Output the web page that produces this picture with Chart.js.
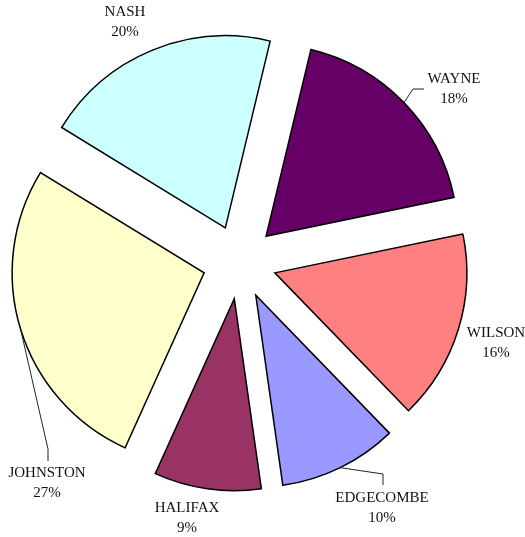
<!DOCTYPE html>
<html>
<head>
<meta charset="utf-8">
<script src="https://cdn.jsdelivr.net/npm/chart.js@4/dist/chart.umd.min.js"></script>
<style>
  html, body { margin: 0; padding: 0; background: #fff; }
  #wrap { width: 525px; height: 537px; }
</style>
</head>
<body>
<div id="wrap"><canvas id="pieChart" width="525" height="537"></canvas></div>
<script>
// County shares, clockwise from the top
const counties = ['WAYNE', 'WILSON', 'EDGECOMBE', 'HALIFAX', 'JOHNSTON', 'NASH'];
const shares = [18, 16, 10, 9, 27, 20];
const sliceColors = ['#660066', '#FF8080', '#9999FF', '#993366', '#FFFFCC', '#CCFFFF'];

// Label placement (centre of the name line) and optional leader elbows
const labelLayout = [
    { x: 454, y: 79, leader: [[413, 89], [424, 89]] },
    { x: 496, y: 333 },
    { x: 382, y: 498, leader: [[383, 474], [383, 485]] },
    { x: 187, y: 508 },
    { x: 47, y: 473, leader: [[48, 449], [48, 461]] },
    { x: 125, y: 12 }
];

const EXPLODE = 37;

// Pull every slice outwards along its middle angle
const explodePlugin = {
    id: 'explode',
    beforeDatasetDraw(chart, args) {
        const ctx = chart.ctx;
        const meta = args.meta;
        meta.data.forEach(arc => {
            const mid = (arc.startAngle + arc.endAngle) / 2;
            ctx.save();
            ctx.translate(Math.cos(mid) * EXPLODE, Math.sin(mid) * EXPLODE);
            arc.draw(ctx);
            ctx.restore();
        });
        return false;
    }
};

// Name + percentage text, with leader lines where the label sits away from the slice
const labelPlugin = {
    id: 'sliceLabels',
    afterDatasetsDraw(chart) {
        const ctx = chart.ctx;
        const meta = chart.getDatasetMeta(0);
        ctx.save();
        ctx.font = '15px "Liberation Serif", "Times New Roman", serif';
        ctx.fillStyle = '#111';
        ctx.strokeStyle = '#222';
        ctx.lineWidth = 1;
        ctx.textAlign = 'center';
        ctx.textBaseline = 'middle';
        meta.data.forEach((arc, i) => {
            const lbl = labelLayout[i];
            const mid = (arc.startAngle + arc.endAngle) / 2;
            const cx = arc.x + Math.cos(mid) * EXPLODE;
            const cy = arc.y + Math.sin(mid) * EXPLODE;
            if (lbl.leader) {
                ctx.beginPath();
                ctx.moveTo(cx + Math.cos(mid) * arc.outerRadius, cy + Math.sin(mid) * arc.outerRadius);
                lbl.leader.forEach(([x, y]) => ctx.lineTo(x, y));
                ctx.stroke();
            }
            ctx.fillText(counties[i], lbl.x, lbl.y);
            ctx.fillText(shares[i] + '%', lbl.x, lbl.y + 20);
        });
        ctx.restore();
    }
};

new Chart(document.getElementById('pieChart'), {
    type: 'pie',
    data: {
        labels: counties,
        datasets: [{
            data: shares,
            backgroundColor: sliceColors,
            borderColor: '#000',
            borderWidth: 1.5,
            borderJoinStyle: 'miter'
        }]
    },
    options: {
        responsive: false,
        animation: false,
        devicePixelRatio: 1,
        rotation: 13.5,
        radius: 192,
        layout: { padding: { left: 0, right: 46, top: 0, bottom: 13 } },
        plugins: {
            legend: { display: false },
            tooltip: { enabled: false }
        }
    },
    plugins: [explodePlugin, labelPlugin]
});
</script>
</body>
</html>
